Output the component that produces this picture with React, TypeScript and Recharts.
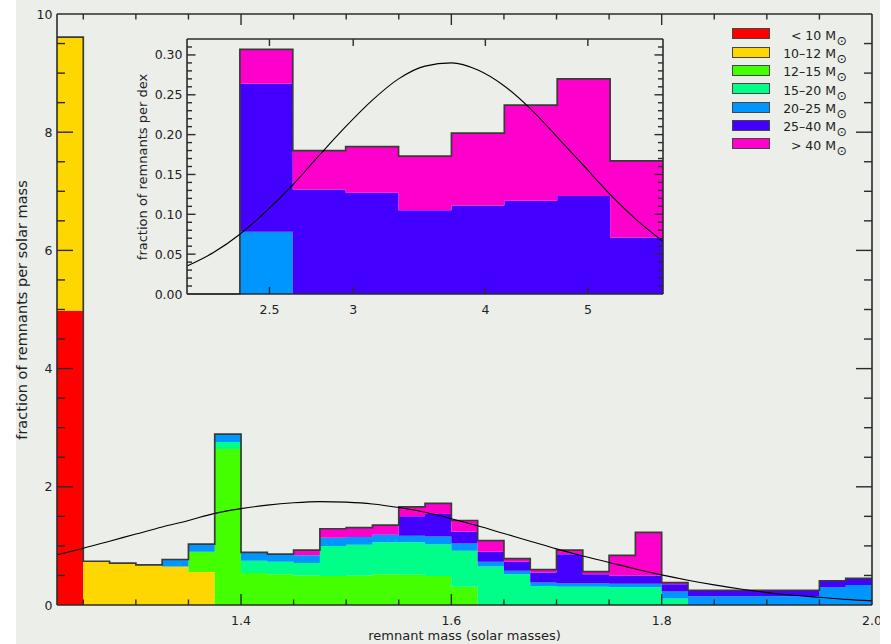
import { ComposedChart, Area, Line, XAxis, YAxis, ReferenceLine } from "recharts";

const FONT = "'DejaVu Sans', sans-serif";
const INK = "#222";
const FRAME = "#2b2b2b";
const OUTLINE = "#3a3a3a";
const PANEL = "#ECEEE9";

// progenitor mass classes, bottom of the stack first
const SERIES = [
  { key: "lt10", label: "< 10", color: "#FF0000" },
  { key: "m10_12", label: "10\u201312", color: "#FFD700" },
  { key: "m12_15", label: "12\u201315", color: "#44FF00" },
  { key: "m15_20", label: "15\u201320", color: "#00FF88" },
  { key: "m20_25", label: "20\u201325", color: "#0096FF" },
  { key: "m25_40", label: "25\u201340", color: "#4400FF" },
  { key: "gt40", label: "> 40", color: "#FF00CC" },
];

// main histogram: left edges of 0.025 Msun bins, last bin closes at 2.0
const BIN_EDGES = [
  1.225, 1.25, 1.275, 1.3, 1.325, 1.35, 1.375, 1.4, 1.425, 1.45, 1.475, 1.5,
  1.525, 1.55, 1.575, 1.6, 1.625, 1.65, 1.675, 1.7, 1.725, 1.75, 1.775, 1.8,
  1.825, 1.85, 1.875, 1.9, 1.925, 1.95, 1.975,
];
const BIN_END = 2.0;

const LT10 = [4.98, 0, 0, 0, 0, 0, 0, 0, 0, 0, 0, 0, 0, 0, 0, 0, 0, 0, 0, 0, 0, 0, 0, 0, 0, 0, 0, 0, 0, 0, 0];
const M10_12 = [4.63, 0.74, 0.71, 0.68, 0.65, 0.56, 0, 0, 0, 0, 0, 0, 0, 0, 0, 0, 0, 0, 0, 0, 0, 0, 0, 0, 0, 0, 0, 0, 0, 0, 0];
const M12_15 = [0, 0, 0, 0, 0, 0.34, 2.64, 0.54, 0.52, 0.5, 0.49, 0.5, 0.52, 0.51, 0.49, 0.31, 0, 0, 0, 0, 0, 0, 0, 0, 0, 0, 0, 0, 0, 0, 0];
const M15_20 = [0, 0, 0, 0, 0, 0, 0.12, 0.21, 0.21, 0.21, 0.51, 0.52, 0.54, 0.55, 0.54, 0.61, 0.65, 0.52, 0.32, 0.31, 0.31, 0.3, 0.3, 0.11, 0, 0, 0, 0, 0, 0, 0];
const M20_25 = [0, 0, 0, 0, 0.12, 0.13, 0.13, 0.14, 0.13, 0.13, 0.14, 0.13, 0.13, 0.11, 0.13, 0.12, 0.08, 0.06, 0.06, 0.06, 0.06, 0.06, 0.06, 0.12, 0.15, 0.15, 0.15, 0.15, 0.15, 0.3, 0.34];
const M25_40 = [0, 0, 0, 0, 0, 0, 0, 0, 0, 0, 0, 0, 0, 0.33, 0.38, 0.2, 0.17, 0.15, 0.17, 0.49, 0.15, 0.14, 0.14, 0.12, 0.1, 0.1, 0.1, 0.1, 0.1, 0.11, 0.11];
const GT40 = [0, 0, 0, 0, 0, 0, 0, 0, 0, 0.09, 0.15, 0.16, 0.16, 0.16, 0.18, 0.19, 0.19, 0.055, 0.05, 0.07, 0.045, 0.34, 0.73, 0.03, 0, 0, 0, 0, 0, 0, 0];

// smooth fit, sampled at every bin edge (1.225 ... 2.0)
const MAIN_FIT = [
  0.85, 0.96, 1.08, 1.2, 1.32, 1.43, 1.55, 1.63, 1.69, 1.73, 1.75, 1.74, 1.71,
  1.65, 1.57, 1.46, 1.34, 1.21, 1.08, 0.95, 0.83, 0.72, 0.61, 0.51, 0.42, 0.34,
  0.27, 0.21, 0.165, 0.13, 0.095, 0.07,
];

const MAIN_X_TICKS = [1.25, 1.3, 1.35, 1.4, 1.45, 1.5, 1.55, 1.6, 1.65, 1.7, 1.75, 1.8, 1.85, 1.9, 1.95, 2.0];
const MAIN_X_LABELS = [1.4, 1.6, 1.8, 2.0];
const MAIN_Y_LABELS = [0, 2, 4, 6, 8, 10];

// inset: log10(M) bins of 0.05 dex, last bin closes at 0.77
const INSET_EDGES = [0.37, 0.42, 0.47, 0.52, 0.57, 0.62, 0.67, 0.72];
const INSET_M20_25 = [0.078, 0, 0, 0, 0, 0, 0, 0];
const INSET_M25_40 = [0.186, 0.131, 0.127, 0.105, 0.111, 0.117, 0.123, 0.071];
const INSET_GT40 = [0.043, 0.049, 0.058, 0.068, 0.091, 0.12, 0.147, 0.096];

const INSET_FIT_X = [
  0.32, 0.345, 0.37, 0.395, 0.42, 0.445, 0.47, 0.495, 0.52, 0.545, 0.57, 0.595,
  0.62, 0.645, 0.67, 0.695, 0.72, 0.745, 0.77,
];
const INSET_FIT = [
  0.035, 0.052, 0.075, 0.104, 0.137, 0.174, 0.21, 0.243, 0.27, 0.286, 0.29,
  0.281, 0.261, 0.232, 0.197, 0.161, 0.125, 0.093, 0.066,
];
const INSET_X_LABELS = [2.5, 3, 4, 5];
const INSET_Y_LABELS = [0, 0.05, 0.1, 0.15, 0.2, 0.25, 0.3];

const MAIN_COLUMNS: Record<string, number[]> = {
  lt10: LT10,
  m10_12: M10_12,
  m12_15: M12_15,
  m15_20: M15_20,
  m20_25: M20_25,
  m25_40: M25_40,
  gt40: GT40,
};

const INSET_COLUMNS: Record<string, number[]> = {
  m20_25: INSET_M20_25,
  m25_40: INSET_M25_40,
  gt40: INSET_GT40,
};

function makeRow(x: number, cols: Record<string, number[]>, bin: number) {
  const row: Record<string, number> = { x };
  let total = 0;
  for (const s of SERIES) {
    const v = bin >= 0 && cols[s.key] ? cols[s.key][bin] : 0;
    row[s.key] = v;
    total += v;
  }
  row.total = total;
  return row;
}

// one row per bin edge; the closing edge repeats the last bin so the steps reach 2.0
const mainData = [...BIN_EDGES, BIN_END].map((x, i) => {
  const row = makeRow(x, MAIN_COLUMNS, Math.min(i, BIN_EDGES.length - 1));
  row.fit = MAIN_FIT[i];
  return row;
});

const insetData = INSET_FIT_X.map((x, i) => {
  let bin = -1;
  INSET_EDGES.forEach((e, j) => {
    if (x >= e - 1e-9) bin = j;
  });
  const row = makeRow(x, INSET_COLUMNS, bin);
  row.fit = INSET_FIT[i];
  return row;
});

function steps(from: number, to: number, step: number) {
  const out: number[] = [];
  for (let v = from; v <= to + 1e-9; v += step) out.push(Math.round(v * 1000) / 1000);
  return out;
}

const near = (v: number, list: number[]) => list.some((l) => Math.abs(l - v) < 1e-6);

// tick positions for the frame: majors carry labels, minors are bare marks
const MAIN_XT_MAJOR = MAIN_X_LABELS.filter((v) => v < 1.99);
const MAIN_XT_MINOR = MAIN_X_TICKS.filter((v) => v < 1.99 && !near(v, MAIN_X_LABELS));
const MAIN_YT_MAJOR = MAIN_Y_LABELS.filter((v) => v > 0 && v < 10);
const MAIN_YT_MINOR = steps(0.5, 9.5, 0.5).filter((v) => !near(v, MAIN_Y_LABELS));
const INSET_XT = INSET_X_LABELS.map((m) => Math.log10(m));
const INSET_YT_MAJOR = INSET_Y_LABELS.filter((v) => v > 0);
const INSET_YT_MINOR = steps(0.01, 0.31, 0.01).filter((v) => !near(v, INSET_Y_LABELS));

const tickText = { fontFamily: FONT, fontSize: 12.5, fill: INK };
const TICK_W = 1.4;

function bottomLabel(labels: number[], fmt: (v: number) => string, dy: number) {
  return (p: any) => {
    const v = p.payload.value;
    if (!near(v, labels)) return <g />;
    return (
      <text x={p.x} y={p.y + dy} textAnchor="middle" dominantBaseline="central" {...tickText}>
        {fmt(v)}
      </text>
    );
  };
}

function leftLabel(labels: number[], fmt: (v: number) => string) {
  return (p: any) => {
    const v = p.payload.value;
    if (!near(v, labels)) return <g />;
    return (
      <text x={p.x - 4.5} y={p.y} textAnchor="end" dominantBaseline="central" {...tickText}>
        {fmt(v)}
      </text>
    );
  };
}

const fmtMass = (v: number) => String(Number(Math.pow(10, v).toPrecision(2)));
const MAIN_X_LABEL_FN = bottomLabel(MAIN_X_LABELS, (v) => v.toFixed(1), 15);
const MAIN_Y_LABEL_FN = leftLabel(MAIN_Y_LABELS, (v) => String(v));
const INSET_X_LABEL_FN = bottomLabel(INSET_XT, fmtMass, 15);
const INSET_Y_LABEL_FN = leftLabel(INSET_Y_LABELS, (v) => v.toFixed(2));

// inward ticks on both opposite edges of the frame, IDL style
function xTickShape(len: number) {
  return (p: any) => {
    const lo = Math.max(p.y1, p.y2);
    const hi = Math.min(p.y1, p.y2);
    return (
      <g>
        <line x1={p.x1} x2={p.x1} y1={lo} y2={lo - len} stroke={FRAME} strokeWidth={TICK_W} />
        <line x1={p.x1} x2={p.x1} y1={hi} y2={hi + len} stroke={FRAME} strokeWidth={TICK_W} />
      </g>
    );
  };
}

function yTickShape(len: number) {
  return (p: any) => {
    const l = Math.min(p.x1, p.x2);
    const r = Math.max(p.x1, p.x2);
    return (
      <g>
        <line x1={l} x2={l + len} y1={p.y1} y2={p.y1} stroke={FRAME} strokeWidth={TICK_W} />
        <line x1={r} x2={r - len} y1={p.y1} y2={p.y1} stroke={FRAME} strokeWidth={TICK_W} />
      </g>
    );
  };
}

const MAIN_X_MAJ_SHAPE = xTickShape(11);
const MAIN_X_MIN_SHAPE = xTickShape(5.5);
const MAIN_Y_MAJ_SHAPE = yTickShape(16);
const MAIN_Y_MIN_SHAPE = yTickShape(8);
const INSET_X_SHAPE = xTickShape(7);
const INSET_Y_MAJ_SHAPE = yTickShape(8.5);
const INSET_Y_MIN_SHAPE = yTickShape(5);

const axisLine = { stroke: FRAME, strokeWidth: 1.6 };
const tickLineStyle = { stroke: FRAME, strokeWidth: TICK_W };

type FrameSpec = {
  xDomain: [number, number];
  yDomain: [number, number];
  xMajor: number[];
  xMinor: number[];
  yMajor: number[];
  yMinor: number[];
  xMajLen: number;
  xMinLen: number;
  yMajLen: number;
  yMinLen: number;
};

// mirrored axes draw the inward tick marks on all four sides of the frame
function frameTicks(f: FrameSpec) {
  const xs = [
    { id: "bMaj", orientation: "bottom", ticks: f.xMajor, size: f.xMajLen },
    { id: "bMin", orientation: "bottom", ticks: f.xMinor, size: f.xMinLen },
    { id: "tMaj", orientation: "top", ticks: f.xMajor, size: f.xMajLen },
    { id: "tMin", orientation: "top", ticks: f.xMinor, size: f.xMinLen },
  ];
  const ys = [
    { id: "lMaj", orientation: "left", ticks: f.yMajor, size: f.yMajLen },
    { id: "lMin", orientation: "left", ticks: f.yMinor, size: f.yMinLen },
    { id: "rMaj", orientation: "right", ticks: f.yMajor, size: f.yMajLen },
    { id: "rMin", orientation: "right", ticks: f.yMinor, size: f.yMinLen },
  ];
  return [
    ...xs.map((a) => (
      <XAxis
        key={a.id}
        xAxisId={a.id}
        orientation={a.orientation as any}
        mirror
        type="number"
        dataKey="x"
        domain={f.xDomain}
        ticks={a.ticks}
        interval={0}
        height={1}
        tickSize={a.size}
        tick={false}
        axisLine={false}
        tickLine={tickLineStyle}
      />
    )),
    ...ys.map((a) => (
      <YAxis
        key={a.id}
        yAxisId={a.id}
        orientation={a.orientation as any}
        mirror
        type="number"
        domain={f.yDomain}
        ticks={a.ticks}
        interval={0}
        width={1}
        tickSize={a.size}
        tick={false}
        axisLine={false}
        tickLine={tickLineStyle}
      />
    )),
    ...xs.map((a, i) => (
      <Line
        key={`h${a.id}`}
        dataKey="total"
        xAxisId={a.id}
        yAxisId={ys[i].id}
        stroke="none"
        dot={false}
        isAnimationActive={false}
      />
    )),
  ];
}

function MainChart() {
  return (
    <ComposedChart
      width={891}
      height={644}
      data={mainData}
      margin={{ top: 13, right: 18, bottom: 9, left: 17 }}
    >
      {SERIES.map((s) => (
        <Area
          key={s.key}
          dataKey={s.key}
          stackId="mass"
          type="stepAfter"
          stroke="none"
          fill={s.color}
          fillOpacity={1}
          isAnimationActive={false}
        />
      ))}
      <Line
        dataKey="total"
        xAxisId="top"
        yAxisId="right"
        type="stepAfter"
        stroke={OUTLINE}
        strokeWidth={1.7}
        dot={false}
        isAnimationActive={false}
      />
      <Line dataKey="fit" type="monotone" stroke="#000" strokeWidth={1.1} dot={false} isAnimationActive={false} />
      {MAIN_XT_MAJOR.map((v) => (
        <ReferenceLine key={`mxa${v}`} x={v} ifOverflow="visible" shape={MAIN_X_MAJ_SHAPE} />
      ))}
      {MAIN_XT_MINOR.map((v) => (
        <ReferenceLine key={`mxi${v}`} x={v} ifOverflow="visible" shape={MAIN_X_MIN_SHAPE} />
      ))}
      {MAIN_YT_MAJOR.map((v) => (
        <ReferenceLine key={`mya${v}`} y={v} ifOverflow="visible" shape={MAIN_Y_MAJ_SHAPE} />
      ))}
      {MAIN_YT_MINOR.map((v) => (
        <ReferenceLine key={`myi${v}`} y={v} ifOverflow="visible" shape={MAIN_Y_MIN_SHAPE} />
      ))}
      {frameTicks({
        xDomain: [1.225, 2.0],
        yDomain: [0, 10],
        xMajor: MAIN_XT_MAJOR,
        xMinor: MAIN_XT_MINOR,
        yMajor: MAIN_YT_MAJOR,
        yMinor: MAIN_YT_MINOR,
        xMajLen: 11,
        xMinLen: 5.5,
        yMajLen: 16,
        yMinLen: 8,
      })}
      <XAxis
        dataKey="x"
        type="number"
        domain={[1.225, 2.0]}
        ticks={MAIN_X_TICKS}
        interval={0}
        height={30}
        tickSize={0}
        tickMargin={0}
        tickLine={false}
        axisLine={axisLine}
        tick={MAIN_X_LABEL_FN}
      />
      <XAxis
        xAxisId="top"
        orientation="top"
        dataKey="x"
        type="number"
        domain={[1.225, 2.0]}
        height={1}
        tick={false}
        tickLine={false}
        axisLine={axisLine}
      />
      <YAxis
        type="number"
        domain={[0, 10]}
        ticks={MAIN_Y_LABELS}
        interval={0}
        width={40}
        tickSize={0}
        tickMargin={0}
        tickLine={false}
        axisLine={axisLine}
        tick={MAIN_Y_LABEL_FN}
      />
      <YAxis
        yAxisId="right"
        orientation="right"
        type="number"
        domain={[0, 10]}
        width={1}
        tick={false}
        tickLine={false}
        axisLine={axisLine}
      />
    </ComposedChart>
  );
}

function InsetChart() {
  return (
    <ComposedChart
      width={560}
      height={290}
      data={insetData}
      margin={{ top: 8, right: 16, bottom: 6, left: 17 }}
    >
      {SERIES.filter((s) => INSET_COLUMNS[s.key]).map((s) => (
        <Area
          key={s.key}
          dataKey={s.key}
          stackId="mass"
          type="stepAfter"
          stroke="none"
          fill={s.color}
          fillOpacity={1}
          isAnimationActive={false}
        />
      ))}
      <Line
        dataKey="total"
        xAxisId="top"
        yAxisId="right"
        type="stepAfter"
        stroke={OUTLINE}
        strokeWidth={1.7}
        dot={false}
        isAnimationActive={false}
      />
      <Line dataKey="fit" type="monotone" stroke="#000" strokeWidth={1.1} dot={false} isAnimationActive={false} />
      {INSET_XT.map((v) => (
        <ReferenceLine key={`ix${v}`} x={v} ifOverflow="visible" shape={INSET_X_SHAPE} />
      ))}
      {INSET_YT_MAJOR.map((v) => (
        <ReferenceLine key={`iya${v}`} y={v} ifOverflow="visible" shape={INSET_Y_MAJ_SHAPE} />
      ))}
      {INSET_YT_MINOR.map((v) => (
        <ReferenceLine key={`iyi${v}`} y={v} ifOverflow="visible" shape={INSET_Y_MIN_SHAPE} />
      ))}
      {frameTicks({
        xDomain: [0.32, 0.77],
        yDomain: [0, 0.32],
        xMajor: INSET_XT,
        xMinor: INSET_XT,
        yMajor: INSET_YT_MAJOR,
        yMinor: INSET_YT_MINOR,
        xMajLen: 7,
        xMinLen: 7,
        yMajLen: 8.5,
        yMinLen: 5,
      })}
      <XAxis
        dataKey="x"
        type="number"
        domain={[0.32, 0.77]}
        ticks={INSET_XT}
        interval={0}
        height={20}
        tickSize={0}
        tickMargin={0}
        tickLine={false}
        axisLine={axisLine}
        tick={INSET_X_LABEL_FN}
      />
      <XAxis
        xAxisId="top"
        orientation="top"
        dataKey="x"
        type="number"
        domain={[0.32, 0.77]}
        height={1}
        tick={false}
        tickLine={false}
        axisLine={axisLine}
      />
      <YAxis
        type="number"
        domain={[0, 0.32]}
        ticks={INSET_Y_LABELS}
        interval={0}
        width={50}
        tickSize={0}
        tickMargin={0}
        tickLine={false}
        axisLine={axisLine}
        tick={INSET_Y_LABEL_FN}
      />
      <YAxis
        yAxisId="right"
        orientation="right"
        type="number"
        domain={[0, 0.32]}
        width={1}
        tick={false}
        tickLine={false}
        axisLine={axisLine}
      />
    </ComposedChart>
  );
}

function MassLegend() {
  return (
    <div style={{ position: "absolute", left: 0, top: 0 }}>
      {SERIES.map((s, i) => {
        const top = 28.3 + i * 18.33;
        return (
          <div key={s.key}>
            <div
              style={{
                position: "absolute",
                left: 731.5,
                top,
                width: 36,
                height: 9.2,
                background: s.color,
                border: "1.3px solid #454545",
              }}
            />
            <div
              style={{
                position: "absolute",
                left: 736,
                top: top - 0.5,
                width: 100,
                textAlign: "right",
                whiteSpace: "pre",
                fontSize: 12.5,
                lineHeight: "16px",
                color: INK,
              }}
            >
              {s.label + " M"}
            </div>
            <div
              style={{
                position: "absolute",
                left: 836.5,
                top: top + 5.5,
                fontSize: 12.5,
                lineHeight: "13px",
                color: INK,
              }}
            >
              {"\u2299"}
            </div>
          </div>
        );
      })}
    </div>
  );
}

function Title({ x, y, size, vertical, children }: { x: number; y: number; size: number; vertical?: boolean; children: string }) {
  return (
    <div
      style={{
        position: "absolute",
        left: x,
        top: y,
        transform: `translate(-50%, -50%)${vertical ? " rotate(180deg)" : ""}`,
        writingMode: vertical ? "vertical-rl" : undefined,
        whiteSpace: "nowrap",
        fontSize: size,
        lineHeight: 1,
        color: INK,
      }}
    >
      {children}
    </div>
  );
}

export default function App() {
  return (
    <div style={{ position: "absolute", left: 0, top: 0, width: 891, height: 644, background: "#fff", fontFamily: FONT }}>
      <div style={{ position: "absolute", left: 16, top: 0, width: 864, height: 644, background: PANEL, overflow: "hidden" }}>
        <div style={{ position: "absolute", left: -16, top: 0, width: 891, height: 644 }}>
          <MainChart />
          <div style={{ position: "absolute", left: 120, top: 30 }}>
            <InsetChart />
          </div>
          <MassLegend />
        </div>
      </div>
      <Title x={464.5} y={635} size={13}>remnant mass (solar masses)</Title>
      <Title x={22} y={310} size={14.5} vertical>fraction of remnants per solar mass</Title>
      <Title x={141.5} y={167} size={13} vertical>fraction of remnants per dex</Title>
    </div>
  );
}
